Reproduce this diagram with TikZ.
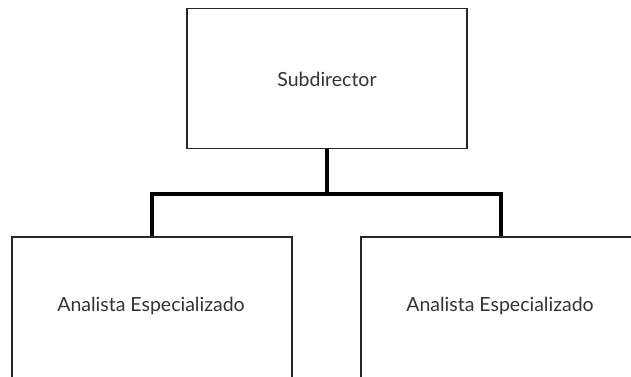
\documentclass[tikz,border=0pt]{standalone}
\usepackage{fontspec}
\setmainfont{Lato}
\begin{document}
\begin{tikzpicture}[x=1pt,y=-1pt,
  box/.style={draw=black!85, line width=1.3pt, minimum width=280pt, minimum height=140pt, inner sep=0pt},
  lbl/.style={text=black!80, font=\fontsize{19.5}{23}\selectfont},
  link/.style={line width=4pt, draw=black}]
\useasboundingbox (0,0) rectangle (631,376);
\clip (0,0) rectangle (631,376);
\node[box] (top) at (327,78.5) {};
\node[box, minimum height=142pt] (left) at (152,308) {};
\node[box, minimum height=142pt] (right) at (501,308) {};
\node[lbl] (ttop) at (327,79) {Subdirector};
\node[lbl] (tleft) at (151,306) {Analista Especializado};
\node[lbl] (tright) at (500,306) {Analista Especializado};
\coordinate (mid) at (327,193.5);
\draw[link] (top.south) -- (mid);
\draw[link] (left.north) -- (left.north |- mid) -- (right.north |- mid) -- (right.north);
\end{tikzpicture}
\end{document}
